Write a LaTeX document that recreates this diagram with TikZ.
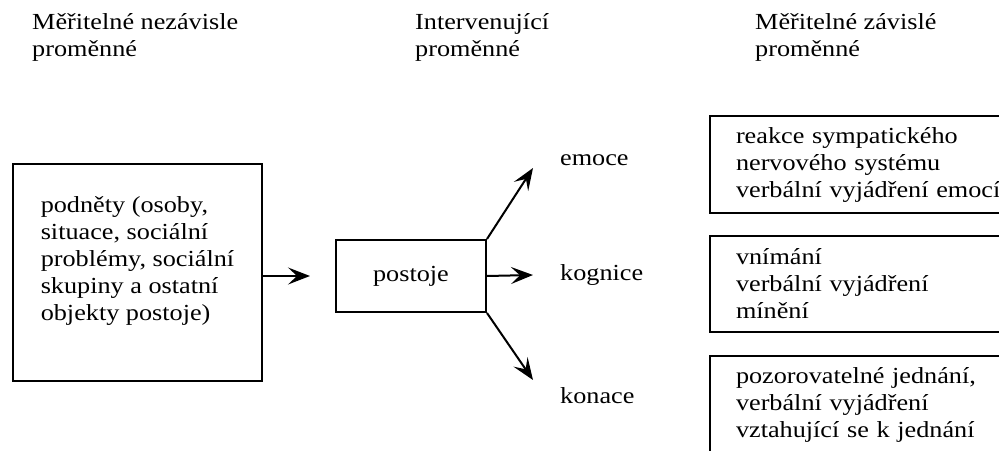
\documentclass[tikz,border=0pt]{standalone}
\usepackage{fontspec}
\setmainfont{Liberation Serif}[FakeStretch=1.14]
\usetikzlibrary{arrows.meta}

\begin{document}
\begin{tikzpicture}[x=1pt,y=-1pt,
  font=\fontsize{23}{27}\selectfont,
  box/.style={draw,line width=2pt,rectangle,inner sep=0pt},
  headtext/.style={anchor=north west,align=left,inner sep=0pt},
  arr/.style={line width=2pt,-{Stealth[length=22pt,width=17pt,inset=9pt]}}]
  \useasboundingbox (0,0) rectangle (999,450);
  \clip (0,0) rectangle (999,450);
  % Column headings
  \node[headtext] (head1) at (32,13) {Měřitelné nezávisle\\proměnné};
  \node[headtext] (head2) at (415,13) {Intervenující\\proměnné};
  \node[headtext] (head3) at (755,13) {Měřitelné závislé\\proměnné};
  %Stimuli
  \node[box,anchor=north west,align=left,minimum width=249,minimum height=217] (stim) at (12,163)
    {podněty (osoby,\\situace, sociální\\problémy, sociální\\skupiny a ostatní\\objekty postoje)\rule[-28pt]{0pt}{0pt}};
  %Attitude
  \node[box,anchor=north west,minimum width=150,minimum height=72] (postoje) at (335,239) {postoje};
  \draw[arr,shorten >=25pt] (stim.east |- postoje.west) -- (postoje.west);
  % Components
  \node[anchor=base west,inner sep=0pt] (emoce) at (560,165) {emoce};
  \node[anchor=base west,inner sep=0pt] (kognice) at (560,280) {kognice};
  \node[anchor=base west,inner sep=0pt] (konace) at (560,403) {konace};
  \coordinate (emoce tip) at (533,168);
  \coordinate (kognice tip) at (533,275);
  \coordinate (konace tip) at (533,380);
  \draw[arr] (postoje.north east) -- (emoce tip);
  \draw[arr] (postoje.east) -- (kognice tip);
  \draw[arr] (postoje.south east) -- (konace tip);
  %Dependent measures
  \node[box,anchor=north west,align=left,text width=290,inner xsep=26,minimum height=97] (react) at (709,115)
    {reakce sympatického\\nervového systému\\verbální vyjádření emocí};
  \node[box,anchor=north west,align=left,text width=290,inner xsep=26,minimum height=96] (percept) at (709,235)
    {vnímání\\verbální vyjádření\\mínění};
  \node[box,anchor=north west,align=left,text width=290,inner xsep=26,minimum height=97] (behav) at (709,355)
    {pozorovatelné jednání,\\verbální vyjádření\\vztahující se k jednání};
\end{tikzpicture}
\end{document}
